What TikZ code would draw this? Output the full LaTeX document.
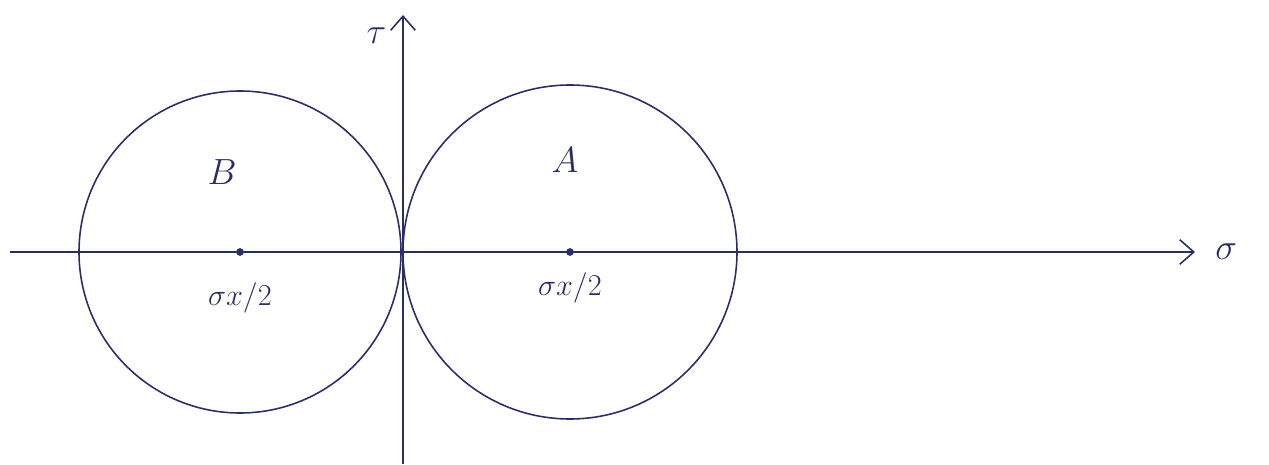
\documentclass[tikz,border=0pt]{standalone}
\usepackage{amsmath,amssymb}
\usepackage{tikz}
\usetikzlibrary{arrows.meta,positioning}
\definecolor{ink}{HTML}{2B2D6B}

\begin{document}
\begin{tikzpicture}[x=0.02cm,y=0.02cm,>={Straight Barb[length=8pt,width=14pt]},
  axis/.style={line width=0.9pt,ink},
  mohr/.style={draw=ink,line width=0.9pt,circle,inner sep=0pt},
  lbl/.style={ink,font=\huge}]
\useasboundingbox (0,0) rectangle (1269,464);
\coordinate (o) at (403,212);
\coordinate (xl) at (10,212); \coordinate (xr) at (1195,212);
\coordinate (yb) at (403,0); \coordinate (yt) at (403,449);
\node[mohr,minimum size=322*0.02cm] (cb) at (240,212) {};
\node[mohr,minimum size=334*0.02cm] (ca) at (570,212) {};
\fill[ink] (cb.center) circle (2.2pt) (ca.center) circle (2.2pt);
\draw[->,axis] (xl)--(xr); \draw[->,axis] (yb)--(yt);
\node[lbl,right=8pt of xr] (sig) {$\sigma$};
\node[lbl,left=6pt of yt,yshift=-12pt] (tau) {$\tau$};
\node[lbl] (lb) at (222,292) {$B$};
\node[lbl] (la) at (565,304) {$A$};
\node[lbl,font=\LARGE,below=14pt of cb.center] (mb) {$\sigma x/2$};
\node[lbl,font=\LARGE,below=8pt of ca.center] (ma) {$\sigma x/2$};
\end{tikzpicture}
\end{document}
